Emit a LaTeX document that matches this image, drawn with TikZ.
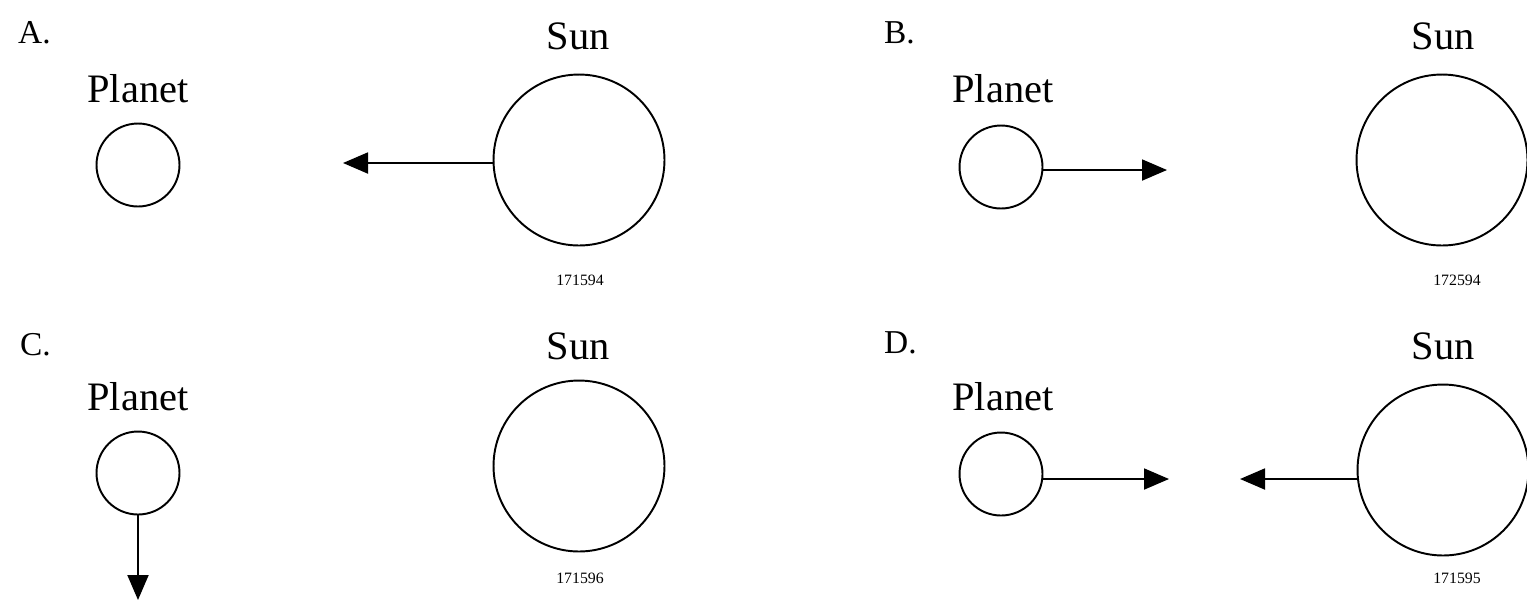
\documentclass[tikz,border=0pt]{standalone}
\usepackage{fontspec}
\setmainfont{Liberation Serif}
\usetikzlibrary{arrows.meta, positioning}

\begin{document}
\begin{tikzpicture}[
    x=0.02cm, y=-0.02cm,
    planet/.style={circle, draw, line width=1.1pt, minimum size=1.66cm, inner sep=0pt},
    sun/.style={circle, draw, line width=1.1pt, minimum size=3.42cm, inner sep=0pt},
    bodytext/.style={anchor=base, font=\fontsize{23}{26}\selectfont},
    paneltext/.style={anchor=base west, font=\fontsize{19}{22}\selectfont},
    codetext/.style={font=\fontsize{9}{10}\selectfont},
    line/.style={draw, line width=1.1pt, -{Triangle[length=0.5cm, width=0.42cm]}}
]
    \useasboundingbox (0,0) rectangle (1527,600);

    % Panel A
    \node (labA) [paneltext] at (12,43) {A.};
    \node (pA) [planet] at (138,165) {};
    \node (pnA) [bodytext] at (138,102) {Planet};
    \node (sA) [sun] at (579,160) {};
    \node (snA) [bodytext] at (578,49) {Sun};
    \node (cA) [codetext] at (580,280) {171594};
    \coordinate (tipA) at (343,163);
    \path [line] (sA.west |- tipA) -- (tipA);

    % Panel B
    \node (labB) [paneltext] at (878,43) {B.};
    \node (pB) [planet] at (1001,167) {};
    \node (pnB) [bodytext] at (1003,102) {Planet};
    \node (sB) [sun] at (1442,160) {};
    \node (snB) [bodytext] at (1443,49) {Sun};
    \node (cB) [codetext] at (1457,280) {172594};
    \coordinate (tipB) at (1167,170);
    \path [line] (pB.east |- tipB) -- (tipB);

    % Panel C
    \node (labC) [paneltext] at (14,355) {C.};
    \node (pC) [planet] at (138,473) {};
    \node (pnC) [bodytext] at (138,410) {Planet};
    \node (sC) [sun] at (579,466) {};
    \node (snC) [bodytext] at (578,359) {Sun};
    \node (cC) [codetext] at (580,578) {171596};
    \coordinate (tipC) at (138,600);
    \path [line] (pC.south) -- (tipC);

    % Panel D
    \node (labD) [paneltext] at (878,353) {D.};
    \node (pD) [planet] at (1001,474) {};
    \node (pnD) [bodytext] at (1003,410) {Planet};
    \node (sD) [sun] at (1443,470) {};
    \node (snD) [bodytext] at (1443,359) {Sun};
    \node (cD) [codetext] at (1457,578) {171595};
    \coordinate (tipD1) at (1169,479);
    \coordinate (tipD2) at (1240,479);
    \path [line] (pD.east |- tipD1) -- (tipD1);
    \path [line] (sD.west |- tipD2) -- (tipD2);

\end{tikzpicture}
\end{document}
